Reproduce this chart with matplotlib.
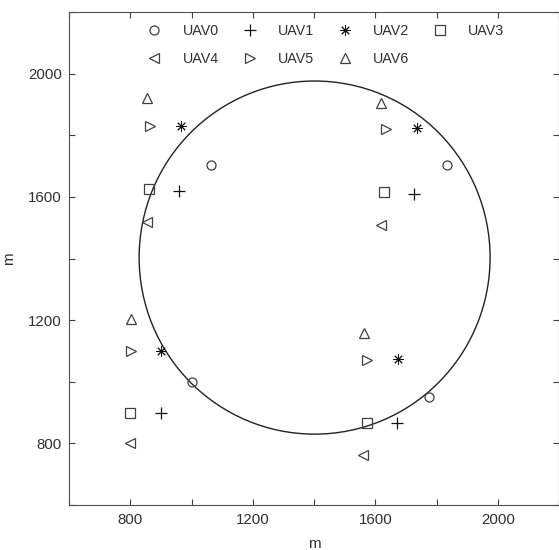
import matplotlib
matplotlib.use("Agg")
import matplotlib.pyplot as plt
from matplotlib.patches import Circle
from matplotlib.ticker import FixedLocator, FuncFormatter

plt.rcParams['font.family'] = ['Liberation Sans', 'DejaVu Sans']

labels = ['UAV0', 'UAV1', 'UAV2', 'UAV3', 'UAV4', 'UAV5', 'UAV6']
markers = ['o', '+', (8, 2, 0), 's', '<', '>', '^']

uav0_x = [1065, 1835, 1000, 1775]
uav0_y = [1705, 1702, 1000, 950]
uav1_x = [960, 1725, 900, 1670]
uav1_y = [1620, 1610, 900, 865]
uav2_x = [965, 1737, 900, 1675]
uav2_y = [1830, 1823, 1100, 1075]
uav3_x = [860, 1630, 800, 1572]
uav3_y = [1625, 1615, 900, 866]
uav4_x = [856, 1620, 800, 1560]
uav4_y = [1520, 1510, 800, 762]
uav5_x = [866, 1635, 802, 1572]
uav5_y = [1830, 1820, 1100, 1072]
uav6_x = [855, 1620, 802, 1562]
uav6_y = [1920, 1906, 1203, 1159]

circle_center = (1402, 1403)
circle_radius = 573

xs = [uav0_x, uav1_x, uav2_x, uav3_x, uav4_x, uav5_x, uav6_x]
ys = [uav0_y, uav1_y, uav2_y, uav3_y, uav4_y, uav5_y, uav6_y]

fig = plt.figure(figsize=(5.59, 5.50), dpi=100)
ax = fig.add_axes([69/559, 45/550, 490/559, 493/550])

col = '#404040'
handles = []
for x, y, m, lab in zip(xs, ys, markers, labels):
    if m == '+':
        h, = ax.plot(x, y, linestyle='none', marker=m, markersize=8, color='#111111',
                     markeredgewidth=0.9, label=lab)
    elif isinstance(m, tuple):
        h, = ax.plot(x, y, linestyle='none', marker=m, markersize=7.5, color='#111111',
                     markeredgewidth=0.7, label=lab)
    else:
        h, = ax.plot(x, y, linestyle='none', marker=m, markersize=6.5, color=col,
                     markerfacecolor='none', markeredgewidth=0.9, label=lab)
    handles.append(h)

ax.add_patch(Circle(circle_center, circle_radius, fill=False, edgecolor='#222222', linewidth=1.0))

ax.set_xlim(600, 2200)
ax.set_ylim(600, 2200)

ticks = list(range(600, 2201, 200))
fmt = FuncFormatter(lambda v, p: f"{int(v)}" if (int(v) % 400 == 0 and 800 <= v <= 2000) else "")
ax.xaxis.set_major_locator(FixedLocator(ticks))
ax.yaxis.set_major_locator(FixedLocator(ticks))
ax.xaxis.set_major_formatter(fmt)
ax.yaxis.set_major_formatter(fmt)
ax.tick_params(direction='in', top=True, right=True, length=4, width=0.8,
               colors='#404040', labelsize=10.8, labelcolor='#303030')
ax.tick_params(axis='x', pad=6)
ax.tick_params(axis='y', pad=5)
for s in ax.spines.values():
    s.set_color('#505050')
    s.set_linewidth(0.8)

ax.set_xlabel('m', fontsize=11, color='#303030', labelpad=7)
ax.set_ylabel('m', fontsize=11, color='#303030')
ax.yaxis.set_label_coords(-0.108, 0.5)

order = [0, 4, 1, 5, 2, 6, 3]
ax.legend([handles[i] for i in order], [labels[i] for i in order],
          ncol=4, frameon=False, loc='upper left', bbox_to_anchor=(0.145, 0.975),
          borderaxespad=0, borderpad=0, handlelength=2, handletextpad=0.96,
          columnspacing=1.17, labelspacing=0.97, fontsize=10.3, labelcolor='#303030')

fig.savefig('out.png', dpi=100)
